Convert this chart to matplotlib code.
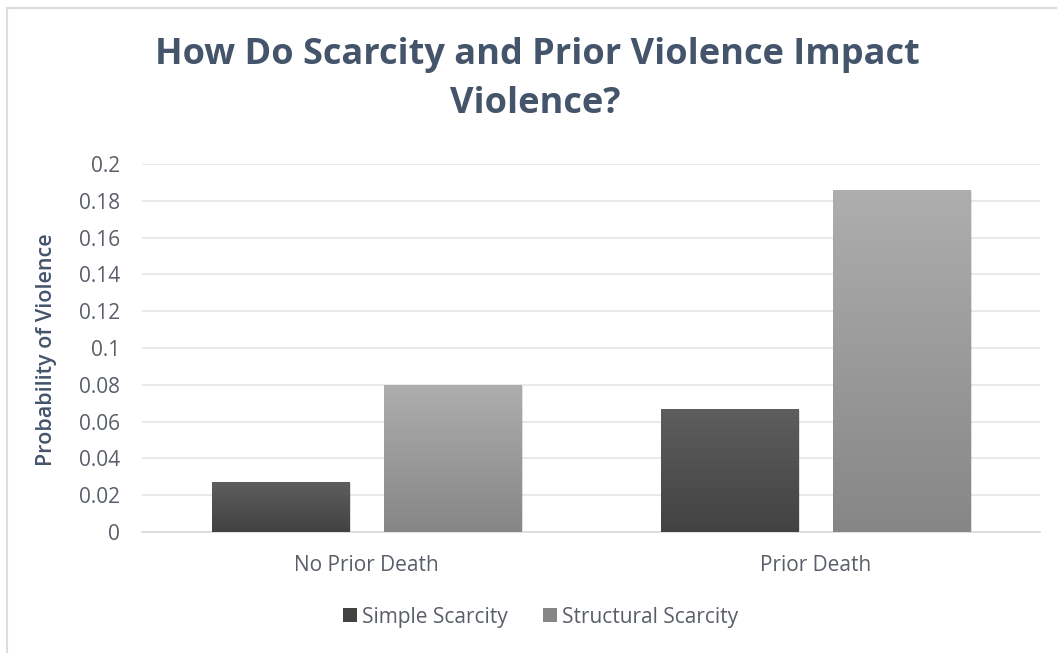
import numpy as np
import matplotlib
matplotlib.use("Agg")
import matplotlib.pyplot as plt
from matplotlib.colors import LinearSegmentedColormap
from matplotlib.patches import Rectangle, Patch

categories = ["No Prior Death", "Prior Death"]
series_names = ["Simple Scarcity", "Structural Scarcity"]
simple_scarcity = [0.027, 0.067]
structural_scarcity = [0.080, 0.186]
y_ticks = [0, 0.02, 0.04, 0.06, 0.08, 0.1, 0.12, 0.14, 0.16, 0.18, 0.2]
y_tick_labels = ["0", "0.02", "0.04", "0.06", "0.08", "0.1", "0.12", "0.14", "0.16", "0.18", "0.2"]

title_color = "#44546A"
tick_color = "#595E68"
grid_color = "#E3E6EA"
font = ["Open Sans", "DejaVu Sans"]

# (top colour, bottom colour) of each series' vertical gradient
gradients = [("#5E5E5E", "#424242"), ("#AEAEAE", "#868686")]

fig = plt.figure(figsize=(10.57, 6.53), dpi=100)
fig.patch.set_facecolor("white")

# chart frame
fig.patches.append(Rectangle((7 / 1057, -0.05), 1.2, 1 - 8 / 653 + 0.05,
                             transform=fig.transFigure, fill=False,
                             edgecolor="#D9DCE1", linewidth=1.5))

ax = fig.add_axes([142 / 1057, 1 - 532 / 653, (1040 - 142) / 1057, (532 - 164) / 653])

x = np.arange(len(categories))
width = 0.307
offset = 0.1915

for values, shift, (c_top, c_bot), name in zip(
        [simple_scarcity, structural_scarcity], [-offset, offset], gradients, series_names):
    bars = ax.bar(x + shift, values, width, color="none", edgecolor="none", zorder=3)
    cmap = LinearSegmentedColormap.from_list(name, [c_bot, c_top])
    for bar in bars:
        x0, y0 = bar.get_x(), bar.get_y()
        w, h = bar.get_width(), bar.get_height()
        # soft drop shadow
        ax.add_patch(Rectangle((x0 + 0.004, y0 - 0.0006), w, h, facecolor="#000000",
                               alpha=0.12, edgecolor="none", zorder=2))
        grad = np.linspace(0, 1, 256).reshape(-1, 1)
        im = ax.imshow(grad, cmap=cmap, origin="lower", aspect="auto",
                       extent=(x0, x0 + w, y0, y0 + h), zorder=3)
        im.set_clip_path(bar)

ax.set_xlim(-0.5, 1.5)
ax.set_ylim(0, 0.2)

ax.set_yticks(y_ticks)
ax.set_yticklabels(y_tick_labels)
ax.set_xticks(x)
ax.set_xticklabels(categories)
ax.yaxis.grid(True, color=grid_color, linewidth=1.2, zorder=0)
ax.set_axisbelow(True)
ax.tick_params(axis="y", length=0, pad=16, labelsize=15, labelcolor=tick_color)
ax.tick_params(axis="x", length=0, pad=16.5, labelsize=15, labelcolor=tick_color)
for lbl in ax.get_xticklabels() + ax.get_yticklabels():
    lbl.set_family(font)
for side in ["top", "right", "left"]:
    ax.spines[side].set_visible(False)
ax.spines["bottom"].set_color("#D9D9D9")
ax.spines["bottom"].set_linewidth(1.2)

ax.set_ylabel("Probability of Violence", fontsize=15.5, color=title_color,
              fontweight="semibold", family=font)
ax.yaxis.set_label_coords(-(142 - 57) / (1040 - 142), 0.495)

fig.text(0.508, 1 - 55 / 653, "How Do Scarcity and Prior Violence Impact",
         ha="center", va="center", fontsize=26, fontweight="bold",
         color=title_color, family=font)
fig.text(0.506, 1 - 104 / 653, "Violence?",
         ha="center", va="center", fontsize=26, fontweight="bold",
         color=title_color, family=font)

handles = [Patch(facecolor=gradients[0][1], edgecolor="none"),
           Patch(facecolor=gradients[1][1], edgecolor="none")]
fig.legend(handles, series_names, loc="center", bbox_to_anchor=(0.5114, 1 - 617 / 653),
           ncol=2, frameon=False, handlelength=0.67, handleheight=0.67,
           handletextpad=0.25, columnspacing=1.7,
           prop={"family": font, "size": 15}, labelcolor=tick_color)

fig.savefig("out.png", dpi=100)
